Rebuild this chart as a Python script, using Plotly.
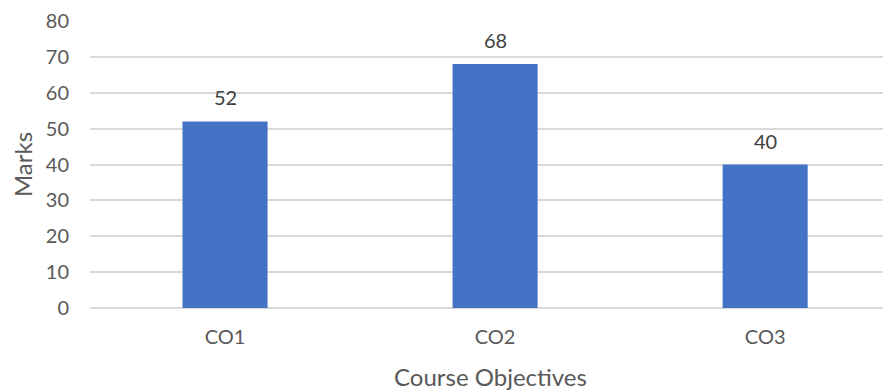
import plotly.graph_objects as go

categories = ['CO1', 'CO2', 'CO3']
marks = [52, 68, 40]
y_ticks = [0, 10, 20, 30, 40, 50, 60, 70, 80]

text_color = '#595959'
grid_color = '#d9d9d9'
font_family = 'Lato, Open Sans, sans-serif'

fig = go.Figure()
fig.add_trace(go.Bar(
    x=categories,
    y=marks,
    marker=dict(color='#4472C4', line=dict(width=0)),
    width=0.315,
    hoverinfo='x+y'
))

# Data labels above each bar
for cat, val in zip(categories, marks):
    fig.add_annotation(
        x=cat, y=val, text=str(val), showarrow=False,
        yshift=24, font=dict(size=20, color='#404040', family=font_family)
    )

# page body has an 8px margin, so the figure is sized to end at the window edge
fig.update_layout(
    width=883,
    height=383,
    margin=dict(l=82, r=0, t=13, b=83),
    plot_bgcolor='white',
    paper_bgcolor='white',
    showlegend=False,
    font=dict(family=font_family, color=text_color, size=20),
    bargap=0.685
)
fig.update_xaxes(
    range=[-0.5, 2.466],
    showgrid=False,
    showline=False,
    ticks='',
    ticklabelstandoff=15,
    tickfont=dict(size=20, color=text_color),
    title=dict(text='Course Objectives', font=dict(size=24, color=text_color), standoff=22)
)
fig.update_yaxes(
    range=[0, 80],
    tickvals=y_ticks,
    showgrid=True,
    gridcolor=grid_color,
    gridwidth=1.5,
    zeroline=True,
    zerolinecolor=grid_color,
    zerolinewidth=1.5,
    showline=False,
    ticks='',
    ticklabelstandoff=20,
    tickfont=dict(size=20, color=text_color),
    title=dict(text='Marks', font=dict(size=24, color=text_color), standoff=14)
)

fig.write_html("out.html")
